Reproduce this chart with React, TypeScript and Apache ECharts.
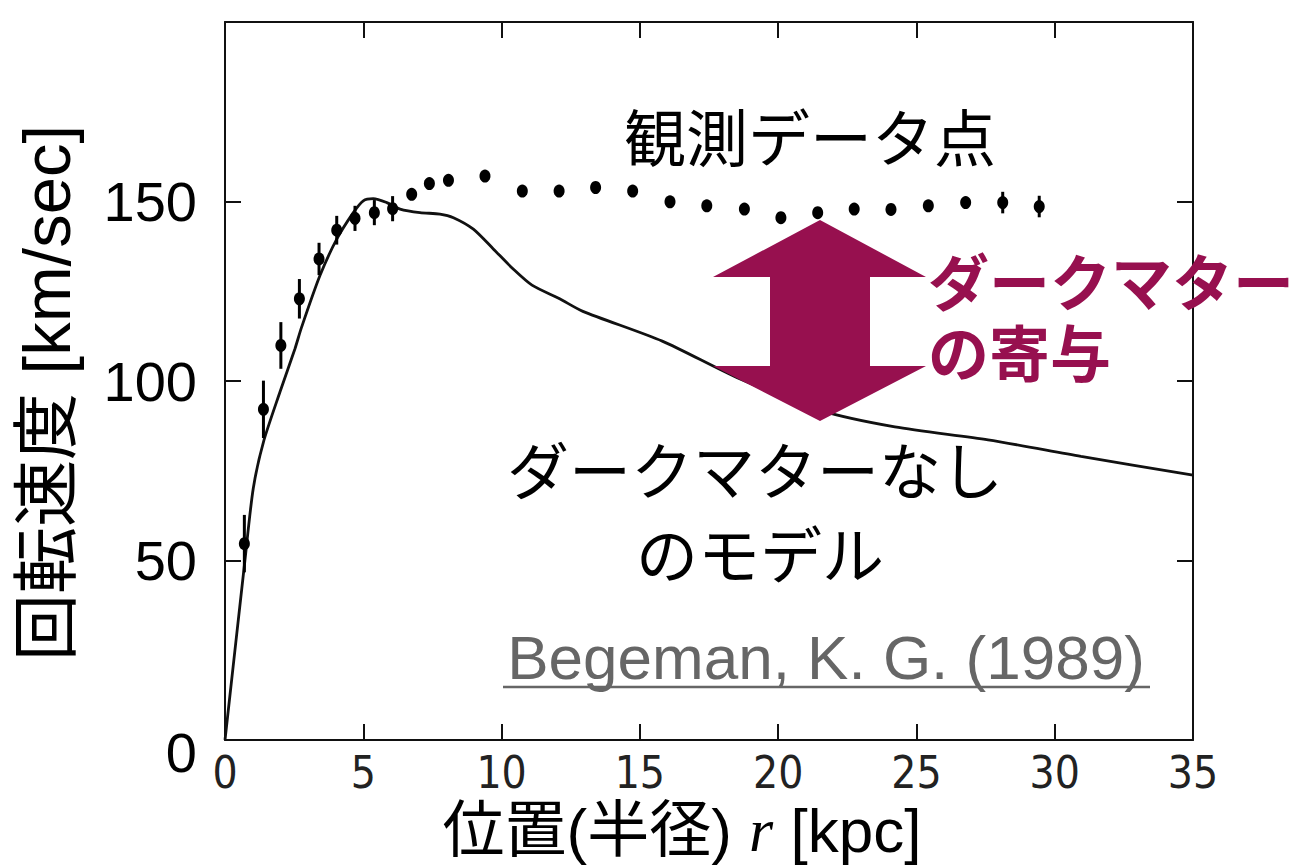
import React, { useEffect, useRef } from 'react';
import * as echarts from 'echarts';

// Observed rotation curve (radius kpc, velocity km/s, error bar half-length)
const OBS_R = [0.7, 1.39, 2.02, 2.69, 3.4, 4.04, 4.7, 5.4, 6.06, 6.75, 7.39, 8.08, 9.4, 10.75, 12.08, 13.4, 14.74, 16.09, 17.42, 18.78, 20.1, 21.43, 22.75, 24.08, 25.43, 26.78, 28.12, 29.44];
const OBS_V = [54.7, 92.1, 109.9, 122.9, 134.0, 142.0, 145.3, 146.9, 148.0, 152.0, 155.0, 155.9, 157.1, 152.9, 152.9, 153.9, 152.9, 149.9, 148.8, 147.9, 145.5, 146.9, 147.9, 147.8, 148.8, 149.7, 149.7, 148.6];
const OBS_ERR = [8, 8, 6.5, 5.5, 4.5, 4, 3.5, 3.5, 3.5, 0, 0, 0, 0, 0, 0, 0, 0, 0, 0, 0, 0, 0, 0, 0, 0, 0, 3, 3];

// Model without dark matter
const MODEL_R = [0, 0.72, 1.02, 1.39, 1.99, 2.53, 2.77, 3.43, 4.04, 4.64, 5.0, 5.36, 5.85, 6.33, 7.05, 7.77, 8.26, 8.98, 9.7, 10.42, 11.1, 12.1, 12.94, 15.81, 18.5, 21.53, 24.22, 27.59, 30.95, 35];
const MODEL_V = [0, 50, 70, 83, 97, 109, 115, 129.3, 139.5, 146.9, 150.2, 150.8, 149.7, 147.9, 146.9, 146.5, 145.5, 142.3, 136.8, 131.2, 126.7, 122.9, 119.4, 111.1, 101.0, 91.8, 87.2, 83.6, 79.0, 73.8];

const MAGENTA = '#97104f';
const CJK = "'Liberation Sans','Noto Sans CJK JP',sans-serif";

export default function App() {
  const ref = useRef<HTMLDivElement>(null);
  useEffect(() => {
    document.body.style.margin = '0';
    const chart = echarts.init(ref.current!, null, { renderer: 'svg' });
    const axisLine = { show: true, onZero: false, lineStyle: { color: '#111', width: 2 } };
    const axisTick = { show: true, inside: true, length: 16, lineStyle: { color: '#111', width: 2 } };
    chart.setOption({
      animation: false,
      backgroundColor: '#ffffff',
      grid: { left: 225, right: 112, top: 22, bottom: 123 },
      xAxis: [
        {
          type: 'value', position: 'bottom', min: 0, max: 35, interval: 5,
          axisLine, axisTick, splitLine: { show: false },
          axisLabel: {
            fontSize: 44, margin: 10, color: '#222',
            fontFamily: "'Liberation Sans Narrow','DejaVu Sans Condensed',sans-serif",
          },
          name: '位置(半径) {i|r} [kpc]', nameLocation: 'middle', nameGap: 59,
          nameTextStyle: {
            fontSize: 62, color: '#000', fontFamily: CJK, padding: [0, 54, 0, 0],
            rich: { i: { fontSize: 62, fontFamily: "'Liberation Serif',serif", fontStyle: 'italic', color: '#000' } },
          },
        },
        {
          type: 'value', position: 'top', min: 0, max: 35, interval: 5,
          axisLine, axisTick, splitLine: { show: false }, axisLabel: { show: false },
        },
      ],
      yAxis: [
        {
          type: 'value', position: 'left', min: 0, max: 200, interval: 50,
          axisLine, axisTick, splitLine: { show: false },
          axisLabel: {
            fontSize: 56, margin: 28, color: '#000', fontFamily: "'Liberation Sans',sans-serif",
            formatter: (v: number) => (v === 200 ? '' : v === 0 ? '{z|0}' : String(v)),
            rich: { z: { fontSize: 56, color: '#000', fontFamily: "'Liberation Sans',sans-serif", padding: [24, 0, 0, 0] } },
          },
          name: '回転速度 [km/sec]', nameLocation: 'middle', nameRotate: 90, nameGap: 145,
          nameTextStyle: { fontSize: 67, color: '#000', fontFamily: CJK, padding: [0, 24, 0, 0] },
        },
        {
          type: 'value', position: 'right', min: 0, max: 200, interval: 50,
          axisLine, axisTick, splitLine: { show: false }, axisLabel: { show: false },
        },
      ],
      series: [
        {
          type: 'line',
          data: MODEL_R.map((r, i) => [r, MODEL_V[i]]),
          smooth: 0.25,
          showSymbol: false,
          symbol: 'none',
          lineStyle: { color: '#111', width: 2.8 },
          z: 2,
        },
        {
          type: 'custom',
          data: OBS_R.map((r, i) => [r, OBS_V[i] - OBS_ERR[i], OBS_V[i] + OBS_ERR[i]]).filter((d) => d[2] > d[1]),
          encode: { x: 0, y: [1, 2] },
          renderItem: (_params: any, api: any) => {
            const p1 = api.coord([api.value(0), api.value(1)]);
            const p2 = api.coord([api.value(0), api.value(2)]);
            return {
              type: 'line',
              shape: { x1: p1[0], y1: p1[1], x2: p2[0], y2: p2[1] },
              style: { stroke: '#000', lineWidth: 3 },
            };
          },
          z: 3,
        },
        {
          type: 'scatter',
          data: OBS_R.map((r, i) => [r, OBS_V[i]]),
          symbol: 'circle',
          symbolSize: [11, 13],
          itemStyle: { color: '#000', opacity: 1 },
          z: 4,
        },
      ],
      graphic: [
        {
          type: 'text', x: 810, y: 140, z: 10,
          style: { text: '観測データ点', fontSize: 62, fontFamily: CJK, fill: '#000', align: 'center', verticalAlign: 'middle', textAlign: 'center', textVerticalAlign: 'middle' },
        },
        {
          type: 'text', x: 755, y: 473, z: 10,
          style: { text: 'ダークマターなし', fontSize: 62, fontFamily: CJK, fill: '#000', align: 'center', verticalAlign: 'middle', textAlign: 'center', textVerticalAlign: 'middle' },
        },
        {
          type: 'text', x: 760, y: 557, z: 10,
          style: { text: 'のモデル', fontSize: 62, fontFamily: CJK, fill: '#000', align: 'center', verticalAlign: 'middle', textAlign: 'center', textVerticalAlign: 'middle' },
        },
        {
          type: 'polygon', z: 10,
          shape: { points: [[820, 220], [926, 277], [870, 277], [870, 366], [926, 366], [820, 421], [713, 366], [770, 366], [770, 277], [713, 277]] },
          style: { fill: MAGENTA },
        },
        {
          type: 'text', x: 928, y: 285, z: 11,
          style: { text: 'ダークマター', fontSize: 61, fontWeight: 'bold', fontFamily: CJK, fill: MAGENTA, align: 'left', verticalAlign: 'middle', textAlign: 'left', textVerticalAlign: 'middle' },
        },
        {
          type: 'text', x: 928, y: 356, z: 11,
          style: { text: 'の寄与', fontSize: 61, fontWeight: 'bold', fontFamily: CJK, fill: MAGENTA, align: 'left', verticalAlign: 'middle', textAlign: 'left', textVerticalAlign: 'middle' },
        },
        {
          type: 'text', x: 826, y: 657, z: 10,
          style: { text: 'Begeman, K. G. (1989)', fontSize: 62, fontFamily: "'Liberation Sans',sans-serif", fill: '#666', align: 'center', verticalAlign: 'middle', textAlign: 'center', textVerticalAlign: 'middle' },
        },
        {
          type: 'line', z: 10,
          shape: { x1: 503, y1: 687, x2: 1150, y2: 687 },
          style: { stroke: '#666', lineWidth: 2.5 },
        },
      ],
    });
    return () => chart.dispose();
  }, []);
  return <div ref={ref} style={{ width: 1305, height: 866 }} />;
}
